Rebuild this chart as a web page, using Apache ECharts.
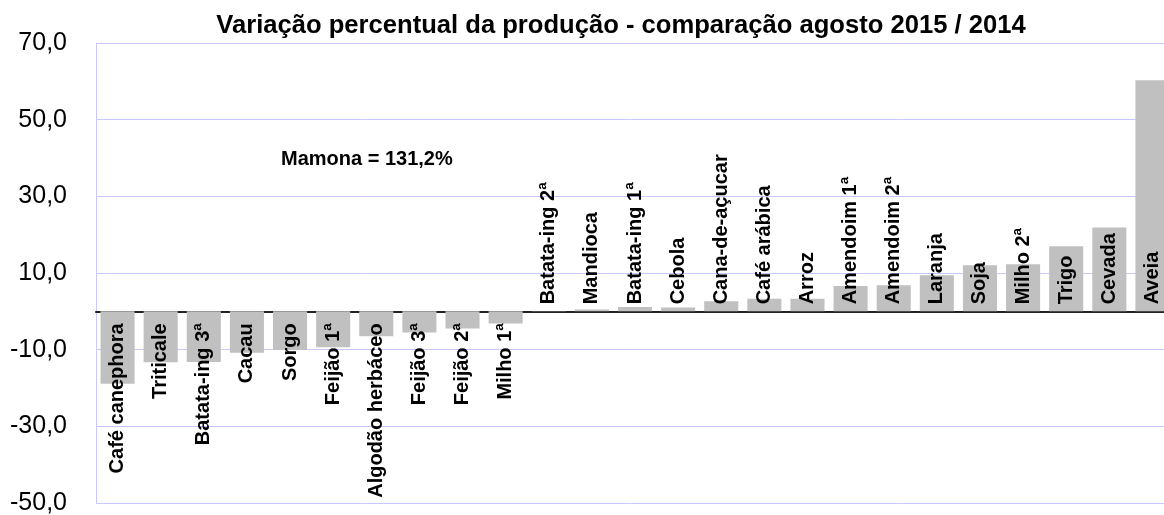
<!DOCTYPE html>
<html>
<head>
<meta charset="utf-8">
<script src="https://cdn.jsdelivr.net/npm/echarts@6/dist/echarts.min.js"></script>
<style>
html,body{margin:0;padding:0;background:#fff;}
#chart{width:1164px;height:515px;}
</style>
</head>
<body>
<div id="chart"></div>
<script>
var titleText = 'Variação percentual da produção - comparação agosto 2015 / 2014';
var noteText = 'Mamona = 131,2%';
var categories = ['Café canephora','Triticale','Batata-ing 3ª','Cacau','Sorgo','Feijão 1ª','Algodão herbáceo','Feijão 3ª','Feijão 2ª','Milho 1ª','Batata-ing 2ª','Mandioca','Batata-ing 1ª','Cebola','Cana-de-açucar','Café arábica','Arroz','Amendoim 1ª','Amendoim 2ª','Laranja','Soja','Milho 2ª','Trigo','Cevada','Aveia'];
var values = [-18.9,-13.3,-13.2,-10.8,-10.1,-9.4,-6.5,-5.5,-4.5,-3.2,0.1,0.5,1.1,1.0,2.6,3.3,3.3,6.6,6.8,9.4,12.0,12.3,17.0,21.9,60.3];
var yMin = -50, yMax = 70, yStep = 20;

var FONT = "'Liberation Sans', Arial, Helvetica, sans-serif";
var chart = echarts.init(document.getElementById('chart'), null, {renderer:'canvas'});

var posLabel = {show:true, position:'insideBottom', distance:7, rotate:90, align:'left', verticalAlign:'middle'};
var negLabel = {show:true, position:'insideTop', distance:12, rotate:90, align:'right', verticalAlign:'middle'};
var barData = values.map(function(v){
  return {value: v, label: v < 0 ? negLabel : posLabel};
});

chart.setOption({
  animation:false,
  backgroundColor:'#ffffff',
  textStyle:{fontFamily:FONT},
  grid:{left:96, top:43, right:-10, bottom:12, containLabel:false, outerBoundsMode:'none'},
  xAxis:{
    type:'category',
    data:categories,
    boundaryGap:true,
    axisLine:{show:true, onZero:true, lineStyle:{color:'#222222', width:2}},
    axisTick:{show:false},
    axisLabel:{show:false},
    splitLine:{show:false}
  },
  yAxis:{
    type:'value',
    min:yMin, max:yMax, interval:yStep,
    axisLine:{show:true, lineStyle:{color:'#c8c8ff', width:1}},
    axisTick:{show:false},
    axisLabel:{
      show:true, margin:29, color:'#000000', fontSize:25, fontFamily:FONT,
      formatter:function(v){return v.toFixed(1).replace('.', ',');}
    },
    splitLine:{show:true, lineStyle:{color:'#c8c8ff', width:1}}
  },
  series:[{
    type:'bar',
    data:barData,
    barCategoryGap:'21%',
    itemStyle:{color:'#c0c0c0'},
    label:{
      show:true,
      formatter:'{b}',
      color:'#000000',
      fontSize:20,
      fontWeight:'bold',
      fontFamily:FONT
    }
  }],
  graphic:[
    {type:'text', x:621, y:26, silent:true,
     style:{text:titleText, x:0, y:0, align:'center', verticalAlign:'middle', fill:'#000', font:'bold 25.6px ' + FONT}},
    {type:'text', x:281, y:159, silent:true,
     style:{text:noteText, align:'left', verticalAlign:'middle', fill:'#000', font:'bold 20px ' + FONT}}
  ]
});
</script>
</body>
</html>
